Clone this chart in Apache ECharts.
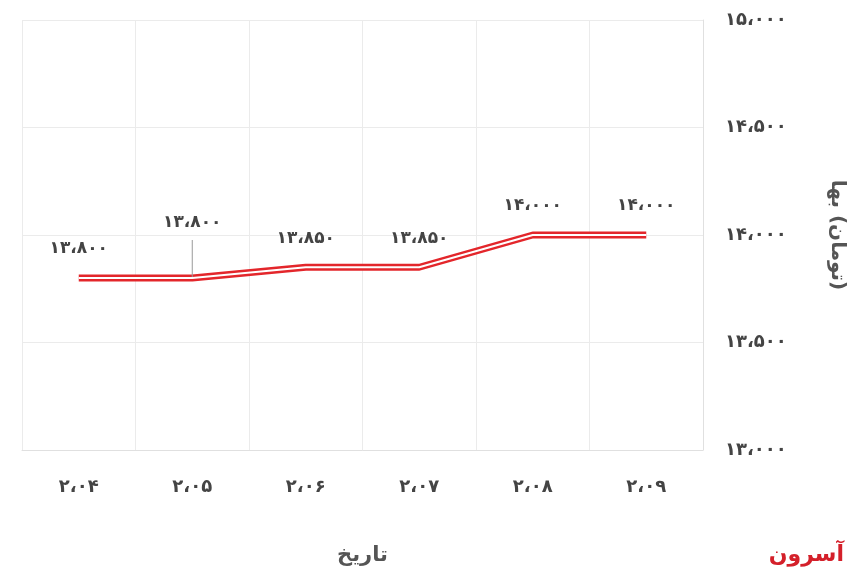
<!DOCTYPE html>
<html>
<head>
<meta charset="utf-8">
<script src="https://cdn.jsdelivr.net/npm/echarts@6/dist/echarts.min.js"></script>
<style>
  html, body { margin: 0; padding: 0; background: #fff; }
  #chart { width: 860px; height: 576px; }
</style>
</head>
<body>
<div id="chart"></div>
<script>
let categories = ['2,04', '2,05', '2,06', '2,07', '2,08', '2,09'];
let prices = [13800, 13800, 13850, 13850, 14000, 14000];

function fa(s) {
    return String(s).replace(/\d/g, d => '۰۱۲۳۴۵۶۷۸۹'[d]).replace(/,/g, '،');
}
function faNum(v) {
    return fa(Number(v).toLocaleString('en-US'));
}

let font = 'DejaVu Sans';
let chart = echarts.init(document.getElementById('chart'));
let option = {
    animation: false,
    grid: { left: 22, right: 157, top: 20, bottom: 126 },
    xAxis: {
        type: 'category',
        data: categories,
        name: 'تاریخ',
        nameLocation: 'center',
        nameGap: 95,
        nameTextStyle: { fontFamily: font, fontWeight: 'bold', fontSize: 21, color: '#555' },
        axisLine: { lineStyle: { color: '#e0e0e0' } },
        axisTick: { show: false },
        splitLine: { show: true, lineStyle: { color: '#ebebeb' } },
        axisLabel: { formatter: v => fa(v), fontFamily: font, fontWeight: 'bold', fontSize: 18, color: '#444', margin: 28 }
    },
    yAxis: {
        type: 'value',
        position: 'right',
        min: 13000,
        max: 15000,
        interval: 500,
        name: '\u200Eبها\u200E \u200E(تومان)\u200E',
        nameLocation: 'center',
        nameGap: 124,
        nameRotate: -90,
        nameTextStyle: { fontFamily: font, fontWeight: 'bold', fontSize: 20, color: '#555' },
        axisLine: { show: true, lineStyle: { color: '#e0e0e0' } },
        splitLine: { lineStyle: { color: '#ebebeb' } },
        axisLabel: { formatter: v => faNum(v), fontFamily: font, fontWeight: 'bold', fontSize: 18, color: '#444', margin: 22 }
    },
    series: [
        {
            type: 'line',
            data: prices.map((v, i) => i === 1
                ? { value: v, label: { offset: [0, -26] }, labelLine: { show: true } }
                : v),
            symbol: 'circle',
            symbolSize: 1,
            itemStyle: { color: 'rgba(0,0,0,0)' },
            lineStyle: { color: '#e3262b', width: 7 },
            label: {
                show: true,
                position: 'top',
                distance: 20,
                formatter: p => faNum(p.value),
                fontFamily: font, fontWeight: 'bold', fontSize: 17, color: '#444'
            },
            labelLine: { lineStyle: { color: '#999', width: 1 } },
            z: 2
        },
        {
            type: 'line',
            data: prices,
            symbol: 'none',
            silent: true,
            lineStyle: { color: '#fff', width: 2 },
            z: 3
        }
    ],
    graphic: [{
        type: 'text', right: 16, bottom: 10,
        style: { text: 'آسرون', fontFamily: font, fontWeight: 'bold', fontSize: 22, fill: '#d4202a' }
    }]
};
chart.setOption(option);
</script>
</body>
</html>
